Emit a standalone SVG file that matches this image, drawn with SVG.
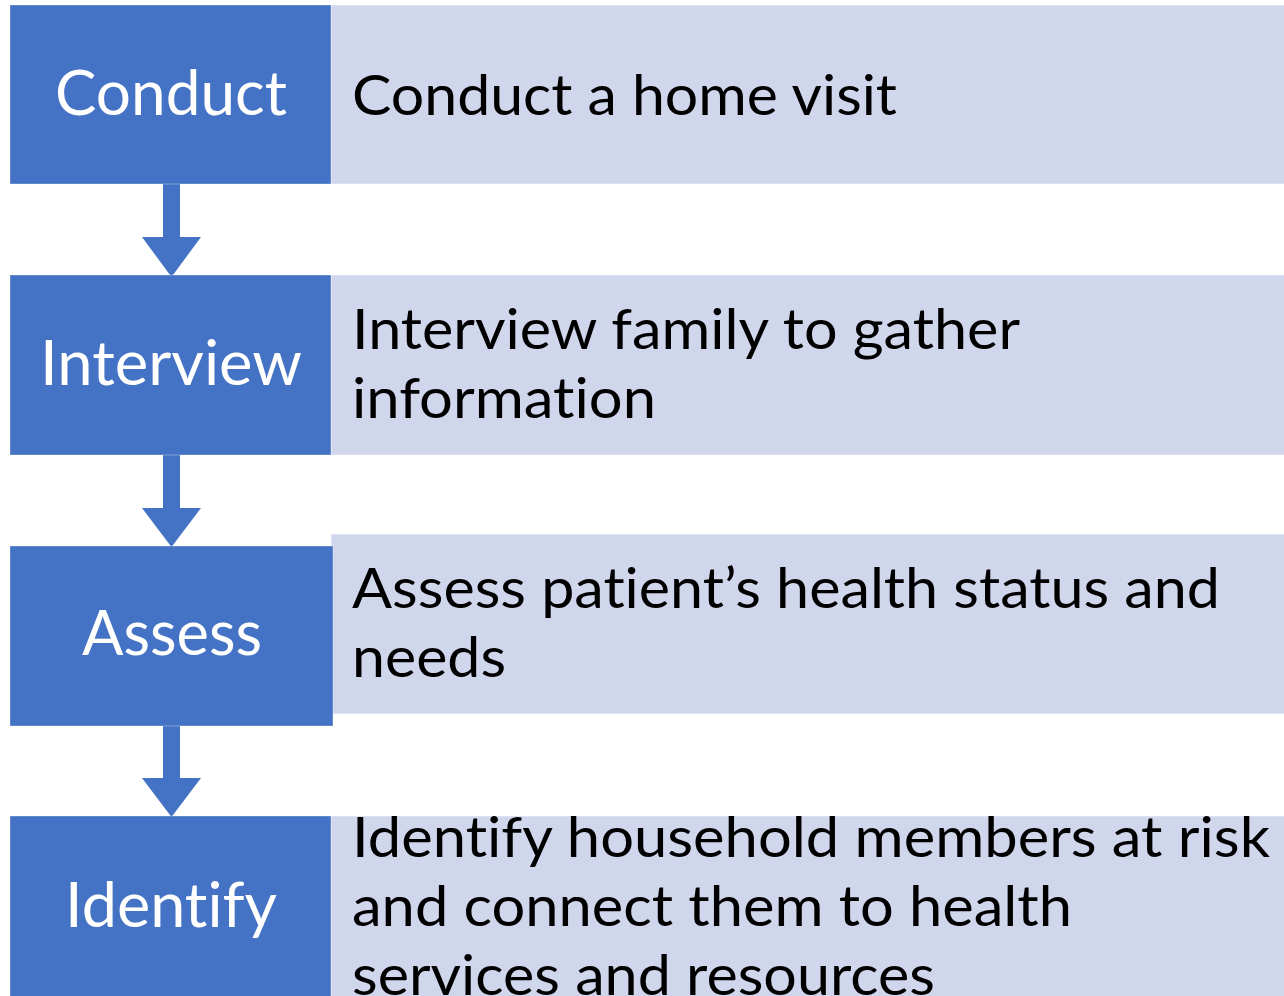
<svg xmlns="http://www.w3.org/2000/svg" width="1284" height="996" viewBox="0 0 1284 996">
  <style>
    .step { fill: #4472C4; stroke: #FFFFFF; stroke-opacity: 0.35; stroke-width: 1; }
    .detail { fill: #D0D6EB; stroke: #FFFFFF; stroke-opacity: 0.5; stroke-width: 1; }
    text { font-family: Lato, "Open Sans", "Liberation Sans", sans-serif; font-variant-ligatures: none; font-feature-settings: "liga" 0, "clig" 0, "dlig" 0; }
    .label { font-size: 61px; fill: #FFFFFF; text-anchor: middle; }
    .desc { font-size: 57px; fill: #000000; }
    .arrow { fill: #4472C4; }
  </style>
  <rect x="0" y="0" width="1284" height="996" fill="#FFFFFF"/>

  <!-- block arrows between the step boxes -->
  <g id="connectors">
    <polygon class="arrow" points="163,184 180,184 180,237 201,237 171.5,277 142,237 163,237"/>
    <polygon class="arrow" points="163,455 180,455 180,508 201,508 171.5,547 142,508 163,508"/>
    <polygon class="arrow" points="163,726 180,726 180,778 201,778 171.5,817 142,778 163,778"/>
  </g>

  <g id="step-conduct">
    <rect class="detail" x="331" y="5" width="960" height="179"/>
    <rect class="step" x="10" y="5" width="321" height="179"/>
    <text class="label" x="171" y="115" textLength="232" lengthAdjust="spacingAndGlyphs">Conduct</text>
    <text class="desc" x="352" y="115" textLength="545" lengthAdjust="spacingAndGlyphs">Conduct a home visit</text>
  </g>

  <g id="step-interview">
    <rect class="detail" x="331" y="275" width="960" height="180"/>
    <rect class="step" x="10" y="275" width="321" height="180"/>
    <text class="label" x="171" y="385" textLength="262" lengthAdjust="spacingAndGlyphs">Interview</text>
    <text class="desc" x="352" y="349" textLength="668" lengthAdjust="spacingAndGlyphs">Interview family to gather</text>
    <text class="desc" x="352" y="418" textLength="304" lengthAdjust="spacingAndGlyphs">information</text>
  </g>

  <g id="step-assess">
    <rect class="detail" x="331" y="534" width="960" height="180"/>
    <rect class="step" x="10" y="546" width="323" height="180"/>
    <text class="label" x="172" y="655" textLength="180" lengthAdjust="spacingAndGlyphs">Assess</text>
    <text class="desc" x="352" y="608" textLength="868" lengthAdjust="spacingAndGlyphs">Assess patient’s health status and</text>
    <text class="desc" x="352" y="677" textLength="154" lengthAdjust="spacingAndGlyphs">needs</text>
  </g>

  <g id="step-identify">
    <rect class="detail" x="331" y="816" width="960" height="190"/>
    <rect class="step" x="10" y="816" width="321" height="190"/>
    <text class="label" x="171" y="927" textLength="212" lengthAdjust="spacingAndGlyphs">Identify</text>
    <text class="desc" x="352" y="857" textLength="918" lengthAdjust="spacingAndGlyphs">Identify household members at risk</text>
    <text class="desc" x="352" y="926" textLength="720" lengthAdjust="spacingAndGlyphs">and connect them to health</text>
    <text class="desc" x="352" y="995" textLength="583" lengthAdjust="spacingAndGlyphs">services and resources</text>
  </g>
</svg>
